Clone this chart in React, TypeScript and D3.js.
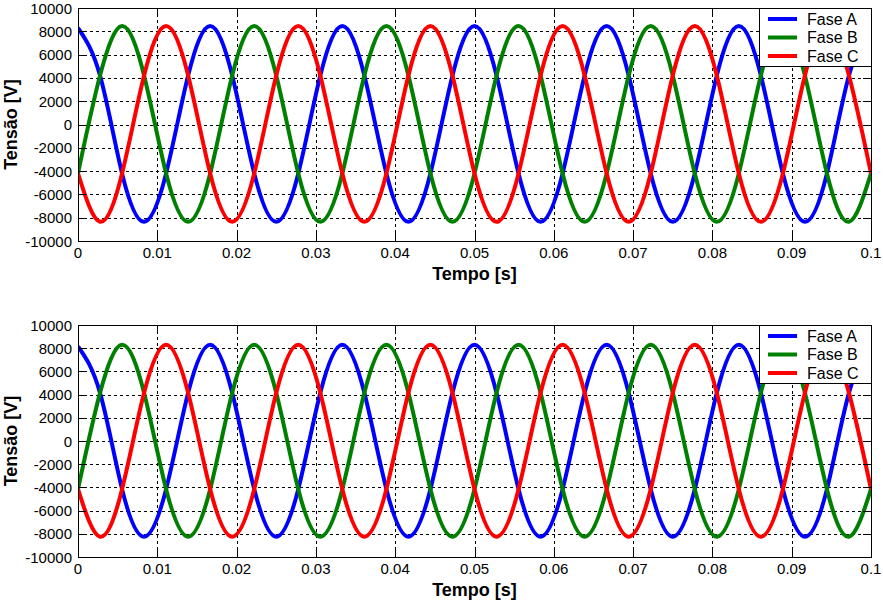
import * as d3 from "d3";
import React, { useEffect, useRef } from "react";

// sample instants (every 60 electrical degrees of a 60 Hz wave)
const tempo = [
  0, 0.002778, 0.005556, 0.008333, 0.011111, 0.013889, 0.016667, 0.019444, 0.022222, 0.025,
  0.027778, 0.030556, 0.033333, 0.036111, 0.038889, 0.041667, 0.044444, 0.047222, 0.05,
  0.052778, 0.055556, 0.058333, 0.061111, 0.063889, 0.066667, 0.069444, 0.072222, 0.075,
  0.077778, 0.080556, 0.083333, 0.086111, 0.088889, 0.091667, 0.094444, 0.097222, 0.1,
];

// upper plot
const faseA1 = [
  8300, 4200, -4200, -8350, -4200, 4200, 8450, 4200, -4200, -8350, -4200, 4200, 8450, 4200,
  -4200, -8350, -4200, 4200, 8450, 4200, -4200, -8350, -4200, 4200, 8450, 4200, -4200, -8350,
  -4200, 4200, 8450, 4200, -4200, -8350, -4200, 4200, 8450,
];
const faseB1 = [
  -4200, 4200, 8450, 4200, -4200, -8350, -4200, 4200, 8450, 4200, -4200, -8350, -4200, 4200,
  8450, 4200, -4200, -8350, -4200, 4200, 8450, 4200, -4200, -8350, -4200, 4200, 8450, 4200,
  -4200, -8350, -4200, 4200, 8450, 4200, -4200, -8350, -4200,
];
const faseC1 = [
  -4200, -8350, -4200, 4200, 8450, 4200, -4200, -8350, -4200, 4200, 8450, 4200, -4200, -8350,
  -4200, 4200, 8450, 4200, -4200, -8350, -4200, 4200, 8450, 4200, -4200, -8350, -4200, 4200,
  8450, 4200, -4200, -8350, -4200, 4200, 8450, 4200, -4200,
];

// lower plot
const faseA2 = [
  8150, 4150, -4150, -8250, -4150, 4150, 8300, 4150, -4150, -8250, -4150, 4150, 8300, 4150,
  -4150, -8250, -4150, 4150, 8300, 4150, -4150, -8250, -4150, 4150, 8300, 4150, -4150, -8250,
  -4150, 4150, 8300, 4150, -4150, -8250, -4150, 4150, 8300,
];
const faseB2 = [
  -4150, 4150, 8300, 4150, -4150, -8250, -4150, 4150, 8300, 4150, -4150, -8250, -4150, 4150,
  8300, 4150, -4150, -8250, -4150, 4150, 8300, 4150, -4150, -8250, -4150, 4150, 8300, 4150,
  -4150, -8250, -4150, 4150, 8300, 4150, -4150, -8250, -4150,
];
const faseC2 = [
  -4150, -8250, -4150, 4150, 8300, 4150, -4150, -8250, -4150, 4150, 8300, 4150, -4150, -8250,
  -4150, 4150, 8300, 4150, -4150, -8250, -4150, 4150, 8300, 4150, -4150, -8250, -4150, 4150,
  8300, 4150, -4150, -8250, -4150, 4150, 8300, 4150, -4150,
];

const xTicks = [0, 0.01, 0.02, 0.03, 0.04, 0.05, 0.06, 0.07, 0.08, 0.09, 0.1];
const yTicks = [-10000, -8000, -6000, -4000, -2000, 0, 2000, 4000, 6000, 8000, 10000];
const legendLabels = ["Fase A", "Fase B", "Fase C"];
const colors = ["#0000ff", "#008000", "#ff0000"];

const panels = [
  { top: 8, bottom: 241, series: [faseA1, faseB1, faseC1] },
  { top: 325, bottom: 557, series: [faseA2, faseB2, faseC2] },
];

const font = "Arial, 'Liberation Sans', sans-serif";

export default function App() {
  const svgRef = useRef<SVGSVGElement | null>(null);

  useEffect(() => {
    if (!svgRef.current) return;
    const svg = d3.select(svgRef.current);
    svg.selectAll("*").remove();

    const marginLeft = 78;
    const right = 871;

    const x = d3.scaleLinear().domain([0, 0.1]).range([marginLeft, right]);

    panels.forEach((p, pi) => {
      const y = d3.scaleLinear().domain([-10000, 10000]).range([p.bottom, p.top]);
      const g = svg.append("g");
      const clipId = `clip${pi}`;
      g.append("clipPath")
        .attr("id", clipId)
        .append("rect")
        .attr("x", marginLeft)
        .attr("y", p.top)
        .attr("width", right - marginLeft)
        .attr("height", p.bottom - p.top);

      // white background
      g.append("rect")
        .attr("x", marginLeft)
        .attr("y", p.top)
        .attr("width", right - marginLeft)
        .attr("height", p.bottom - p.top)
        .attr("fill", "#fff");

      // grid
      g.append("g")
        .attr("stroke", "#000")
        .attr("stroke-width", 1)
        .attr("stroke-dasharray", "3,3")
        .selectAll("line.gx")
        .data(xTicks.slice(1, -1))
        .join("line")
        .attr("x1", (d) => Math.round(x(d)) + 0.5)
        .attr("x2", (d) => Math.round(x(d)) + 0.5)
        .attr("y1", p.top)
        .attr("y2", p.bottom);
      g.append("g")
        .attr("stroke", "#000")
        .attr("stroke-width", 1)
        .attr("stroke-dasharray", "3,3")
        .selectAll("line")
        .data(yTicks.slice(1, -1))
        .join("line")
        .attr("x1", marginLeft)
        .attr("x2", right)
        .attr("y1", (d) => Math.round(y(d)) + 0.5)
        .attr("y2", (d) => Math.round(y(d)) + 0.5);

      // curves
      const line = d3
        .line<number>()
        .x((_, i) => x(tempo[i]))
        .y((d) => y(d))
        .curve(d3.curveNatural);
      g.append("g")
        .attr("clip-path", `url(#${clipId})`)
        .attr("fill", "none")
        .attr("stroke-width", 4)
        .attr("stroke-linejoin", "round")
        .selectAll("path")
        .data(p.series)
        .join("path")
        .attr("stroke", (_, i) => colors[i])
        .attr("d", (d) => line(d));

      // tick marks (inward)
      const tk = g.append("g").attr("stroke", "#000").attr("stroke-width", 1);
      xTicks.forEach((t) => {
        const xx = Math.round(x(t)) + 0.5;
        tk.append("line").attr("x1", xx).attr("x2", xx).attr("y1", p.bottom).attr("y2", p.bottom - 8);
        tk.append("line").attr("x1", xx).attr("x2", xx).attr("y1", p.top).attr("y2", p.top + 8);
      });
      yTicks.forEach((t) => {
        const yy = Math.round(y(t)) + 0.5;
        tk.append("line").attr("x1", marginLeft).attr("x2", marginLeft + 8).attr("y1", yy).attr("y2", yy);
        tk.append("line").attr("x1", right).attr("x2", right - 8).attr("y1", yy).attr("y2", yy);
      });

      // axes box
      g.append("rect")
        .attr("x", marginLeft + 0.5)
        .attr("y", p.top + 0.5)
        .attr("width", right - marginLeft)
        .attr("height", p.bottom - p.top)
        .attr("fill", "none")
        .attr("stroke", "#000");

      // tick labels
      g.append("g")
        .attr("font-family", font)
        .attr("font-size", 15)
        .attr("text-anchor", "end")
        .selectAll("text")
        .data(yTicks)
        .join("text")
        .attr("x", marginLeft - 6)
        .attr("y", (d) => y(d) + 5.5)
        .text((d) => String(d));
      g.append("g")
        .attr("font-family", font)
        .attr("font-size", 15)
        .attr("text-anchor", "middle")
        .selectAll("text")
        .data(xTicks)
        .join("text")
        .attr("x", (d) => x(d))
        .attr("y", p.bottom + 17)
        .text((d) => String(d));

      // axis labels
      g.append("text")
        .attr("x", (marginLeft + right) / 2)
        .attr("y", p.bottom + 39)
        .attr("text-anchor", "middle")
        .attr("font-family", font)
        .attr("font-weight", "bold")
        .attr("font-size", 18)
        .text("Tempo [s]");
      g.append("text")
        .attr("transform", `translate(17,${(p.top + p.bottom) / 2}) rotate(-90)`)
        .attr("text-anchor", "middle")
        .attr("font-family", font)
        .attr("font-weight", "bold")
        .attr("font-size", 18)
        .text("Tensão [V]");

      // legend
      const lg = g.append("g");
      lg.append("rect")
        .attr("x", 759.5)
        .attr("y", p.top + 0.5)
        .attr("width", right - 759)
        .attr("height", 58)
        .attr("fill", "#fff")
        .attr("stroke", "#000");
      legendLabels.forEach((lab, i) => {
        const yy = p.top + 11 + i * 18.5;
        lg.append("line")
          .attr("x1", 768)
          .attr("x2", 797)
          .attr("y1", yy)
          .attr("y2", yy)
          .attr("stroke", colors[i])
          .attr("stroke-width", 4);
        lg.append("text")
          .attr("x", 807)
          .attr("y", yy + 5.5)
          .attr("font-family", font)
          .attr("font-size", 16)
          .text(lab);
      });
    });
  }, []);

  return (
    <svg
      ref={svgRef}
      width={883}
      height={604}
      style={{ position: "absolute", left: 0, top: 0, background: "#fff" }}
    />
  );
}
